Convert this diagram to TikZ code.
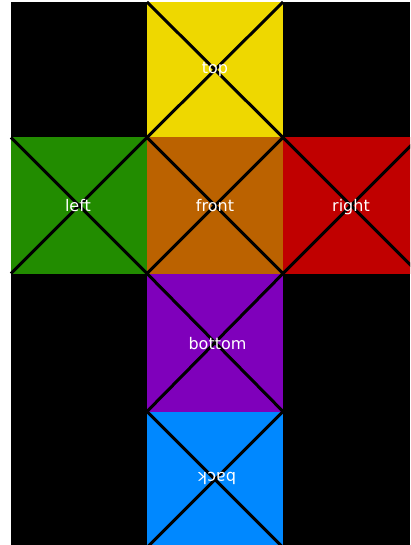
\documentclass[tikz,border=0pt]{standalone}
\usepackage{fontspec}
\setmainfont{DejaVu Sans}
\definecolor{cyellow}{RGB}{238,216,0}
\definecolor{cgreen}{RGB}{34,140,0}
\definecolor{corange}{RGB}{187,98,0}
\definecolor{cred}{RGB}{192,0,0}
\definecolor{cpurple}{RGB}{127,0,187}
\definecolor{cblue}{RGB}{0,136,255}
\tikzset{
  diag/.style={line width=3pt, black},
  lbl/.style={text=white, font=\fontsize{16}{19}\selectfont, inner sep=0pt}
}
\begin{document}
\begin{tikzpicture}[x=1pt,y=-1pt]
\useasboundingbox (0,0) rectangle (410,545);
\fill[white] (0,0) rectangle (410,545);
\begin{scope}
\clip (0,0) rectangle (410,545);
\fill[black] (11,2) rectangle (410,547);
% faces
\fill[cyellow] (147,2) rectangle (283,137.5);
\fill[cgreen] (11,137.5) rectangle (147,273.5);
\fill[corange] (147,137.5) rectangle (283,273.5);
\fill[cred] (283,137.5) rectangle (419,273.5);
\fill[cpurple] (147,273.5) rectangle (283,411.5);
\fill[cblue] (147,411.5) rectangle (283,547.5);
% corner coordinates
\coordinate (t1) at (147,2); \coordinate (t2) at (283,2);
\coordinate (t3) at (147,137.5); \coordinate (t4) at (283,137.5);
\coordinate (l1) at (11,137.5); \coordinate (l3) at (11,273.5);
\coordinate (m3) at (147,273.5); \coordinate (m4) at (283,273.5);
\coordinate (r2) at (419,137.5); \coordinate (r4) at (419,273.5);
\coordinate (b3) at (147,411.5); \coordinate (b4) at (283,411.5);
\coordinate (k3) at (147,547.5); \coordinate (k4) at (283,547.5);
% diagonals
\draw[diag] (t1) -- (t4); \draw[diag] (t2) -- (t3);
\draw[diag] (l1) -- (m3); \draw[diag] (t3) -- (l3);
\draw[diag] (t3) -- (m4); \draw[diag] (t4) -- (m3);
\draw[diag] (t4) -- (r4); \draw[diag] (r2) -- (m4);
\draw[diag] (m3) -- (b4); \draw[diag] (m4) -- (b3);
\draw[diag] (b3) -- (k4); \draw[diag] (b4) -- (k3);
\end{scope}
% labels
\node[lbl] (top) at (215,70) {top};
\node[lbl] (left) at (78,206) {left};
\node[lbl] (front) at (215,206) {front};
\node[lbl] (right) at (351,207) {right};
\node[lbl] (bottom) at (217.5,344) {bottom};
\node[lbl, rotate=180] (back) at (217,478) {back};
\end{tikzpicture}
\end{document}
